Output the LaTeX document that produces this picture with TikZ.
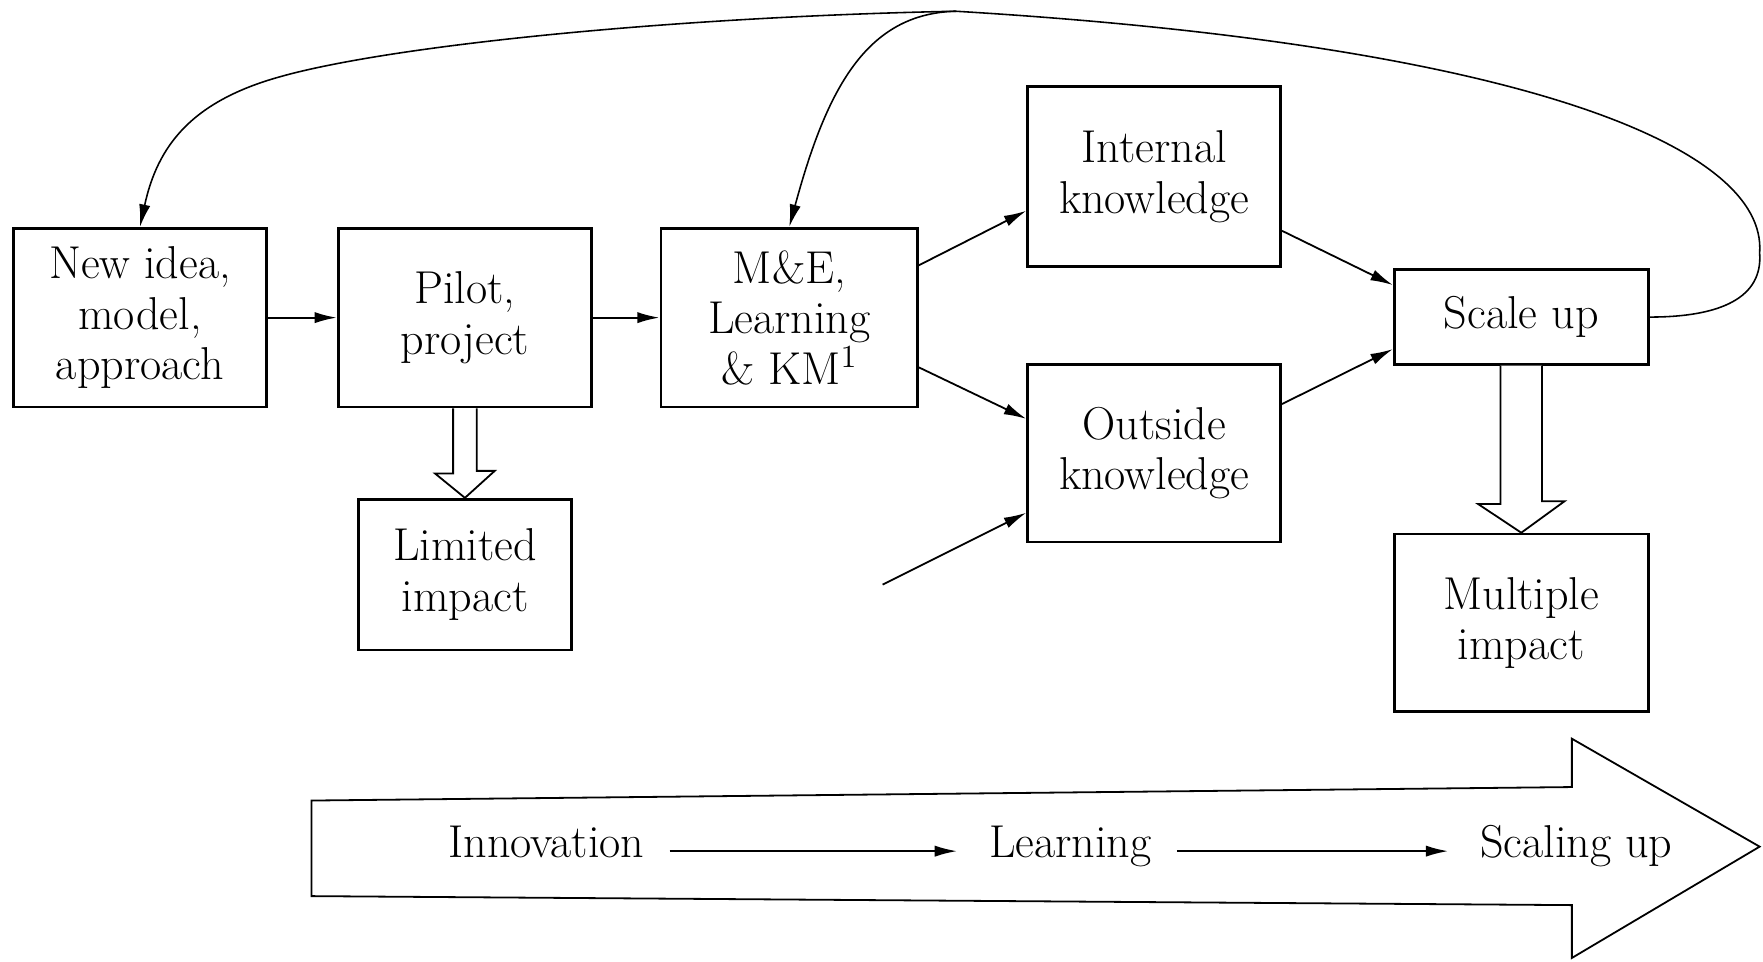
\documentclass[tikz,border=0pt]{standalone}
\usepackage{fontspec}
\usetikzlibrary{calc,arrows.meta,positioning}

\begin{document}
\begin{tikzpicture}[x=0.5pt,y=-0.5pt,>={Latex[length=10pt,width=5pt]},
  box/.style={draw,line width=1.2pt,align=center,inner sep=2pt,font=\fontsize{20.5}{22.5}\selectfont},
  lbl/.style={inner sep=2pt,text height=1.5ex,text depth=.25ex,font=\fontsize{20.5}{22.5}\selectfont},
  lnk/.style={->,line width=0.8pt},
  fat/.style={draw,line width=0.8pt,fill=white}]
  \useasboundingbox (0,0) rectangle (1568,855);
  % boxes
  \node[box,minimum width=112.5pt,minimum height=79.5pt] (idea) at (124.5,282.5) {New idea,\\model,\\approach};
  \node[box,minimum width=112.5pt,minimum height=79.5pt] (pilot) at (413.5,282.5) {Pilot,\\project};
  \node[box,minimum width=114pt,minimum height=79.5pt] (me) at (702,282.5) {M\&E,\\Learning\\\& KM\textsuperscript{1}};
  \node[box,minimum width=94.5pt,minimum height=67pt] (lim) at (413.5,511) {Limited\\impact};
  \node[box,minimum width=112.5pt,minimum height=80pt] (int) at (1026.5,157) {Internal\\knowledge};
  \node[box,minimum width=112.5pt,minimum height=79pt] (out) at (1026.5,403) {Outside\\knowledge};
  \node[box,minimum width=113pt,minimum height=42pt] (sc) at (1353,282) {Scale up};
  \node[box,minimum width=113pt,minimum height=79pt] (mult) at (1353,554) {Multiple\\impact};
  \coordinate (ext) at (785,520);
  \coordinate (top) at (850,10);

  \draw[->,line width=1pt] (idea) -- (pilot);
  \draw[->,line width=1pt] (pilot) -- (me);
  \draw[lnk] (me.22) -- (int.195);
  \draw[lnk] (me.-21) -- (out.165);
  \draw[lnk] (int.-23) -- (sc.166);
  \draw[lnk] (out.21) -- (sc.194);
  \draw[lnk] (ext) -- (out.205);

  % feedback loop
  \draw[lnk,line width=0.7pt] (sc.east) .. controls (1530,282) and (1568,265) .. (1565,225)
    .. controls (1572,130) and (1350,40) .. (top)
    .. controls (600,15) and (350,40) .. (250,68)
    .. controls (170,90) and (140,130) .. (idea.north);
  \draw[lnk,line width=0.7pt] (top) .. controls (770,12) and (735,80) .. (me.north);

  % open arrows
  \draw[fat] ($(pilot.south)+(-10.5,0)$) -- ++(0,58) -- ++(-16,0) -- (lim.north)
    -- ++(26.5,-24) -- ++(-16,0) -- ($(pilot.south)+(10.5,0)$);
  \draw[fat] ($(sc.south)+(-18.5,0)$) -- ++(0,123) -- ++(-20,0) -- (mult.north)
    -- ++(38.5,-28) -- ++(-20,0) -- ($(sc.south)+(18.5,0)$);

  % big arrow
  \draw[line width=0.8pt] (277,712) -- (1398,700) -- (1398,657) -- (1565,753)
    -- (1398,852) -- (1398,805) -- (277,797) -- cycle;
  \node[lbl] (inn) at (486,757) {Innovation};
  \node[lbl] (lrn) at (952,757) {Learning};
  \node[lbl] (scl) at (1402,757) {Scaling up};
  \draw[->,line width=0.9pt,shorten <=9pt,shorten >=12pt] (inn) -- (lrn);
  \draw[->,line width=0.9pt,shorten <=9pt,shorten >=12pt] (lrn) -- (scl);
\end{tikzpicture}
\end{document}
